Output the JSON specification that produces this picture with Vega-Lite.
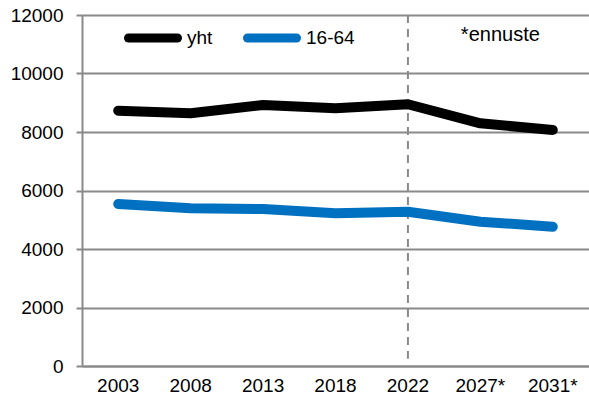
{
  "$schema": "https://vega.github.io/schema/vega-lite/v6.json",
  "width": 507,
  "height": 351,
  "autosize": {"type": "none"},
  "padding": {"left": 82, "top": 15, "right": 0, "bottom": 37},
  "background": "white",
  "config": {
    "view": {"stroke": null},
    "font": "Liberation Sans",
    "axis": {"labelFont": "Liberation Sans", "labelFontSize": 19, "labelColor": "#000000", "domainColor": "#898989", "gridColor": "#898989", "tickColor": "#898989", "domainWidth": 2, "gridWidth": 2, "tickWidth": 2}
  },
  "datasets": {
    "main": [
      {"vuosi": "2003", "sarja": "yht", "arvo": 8728},
      {"vuosi": "2008", "sarja": "yht", "arvo": 8640},
      {"vuosi": "2013", "sarja": "yht", "arvo": 8923},
      {"vuosi": "2018", "sarja": "yht", "arvo": 8810},
      {"vuosi": "2022", "sarja": "yht", "arvo": 8950},
      {"vuosi": "2027*", "sarja": "yht", "arvo": 8297},
      {"vuosi": "2031*", "sarja": "yht", "arvo": 8068},
      {"vuosi": "2003", "sarja": "16-64", "arvo": 5539},
      {"vuosi": "2008", "sarja": "16-64", "arvo": 5391},
      {"vuosi": "2013", "sarja": "16-64", "arvo": 5368},
      {"vuosi": "2018", "sarja": "16-64", "arvo": 5221},
      {"vuosi": "2022", "sarja": "16-64", "arvo": 5276},
      {"vuosi": "2027*", "sarja": "16-64", "arvo": 4934},
      {"vuosi": "2031*", "sarja": "16-64", "arvo": 4763}
    ],
    "marker": [
      {"vuosi": "2022", "ylä": 12000, "ala": 250}
    ],
    "note": [
      {"vuosi": "2027*", "arvo": 11300, "teksti": "*ennuste"}
    ]
  },
  "layer": [
    {
      "data": {"name": "marker"},
      "mark": {"type": "rule", "strokeDash": [8, 6], "strokeWidth": 2, "color": "#898989"},
      "encoding": {
        "x": {
          "field": "vuosi", "type": "ordinal", "bandPosition": 0.5,
          "scale": {"type": "band", "domain": ["2003", "2008", "2013", "2018", "2022", "2027*", "2031*"], "paddingInner": 0, "paddingOuter": 0},
          "axis": {"title": null, "labelAngle": 0, "ticks": false, "labelPadding": 10, "domain": true, "grid": false}
        },
        "y": {"field": "ylä", "type": "quantitative"},
        "y2": {"field": "ala"}
      }
    },
    {
      "data": {"name": "main"},
      "mark": {"type": "line", "strokeWidth": 10, "strokeCap": "round", "strokeJoin": "round"},
      "encoding": {
        "x": {"field": "vuosi", "type": "ordinal", "sort": null, "bandPosition": 0.5},
        "y": {
          "field": "arvo", "type": "quantitative",
          "scale": {"domain": [0, 12000], "nice": false},
          "axis": {"title": null, "values": [0, 2000, 4000, 6000, 8000, 10000, 12000], "format": "d", "tickSize": 6, "labelPadding": 13, "grid": true}
        },
        "color": {
          "field": "sarja", "type": "nominal",
          "scale": {"domain": ["yht", "16-64"], "range": ["#000000", "#0070C0"]},
          "legend": {
            "title": null, "orient": "none", "legendX": 42, "legendY": -6, "direction": "horizontal",
            "symbolType": "stroke", "symbolSize": 2400, "symbolStrokeWidth": 9,
            "labelFont": "Liberation Sans", "labelFontSize": 19, "labelColor": "#000000",
            "labelOffset": 5, "columnPadding": 16,
            "encode": {"symbols": {"update": {"strokeCap": {"value": "round"}}}}
          }
        }
      }
    },
    {
      "data": {"name": "note"},
      "mark": {"type": "text", "font": "Liberation Sans", "fontSize": 20, "fontWeight": "normal", "color": "#000000", "dx": 20},
      "encoding": {
        "x": {"field": "vuosi", "type": "ordinal", "bandPosition": 0.5},
        "y": {"field": "arvo", "type": "quantitative"},
        "text": {"field": "teksti"}
      }
    }
  ]
}
